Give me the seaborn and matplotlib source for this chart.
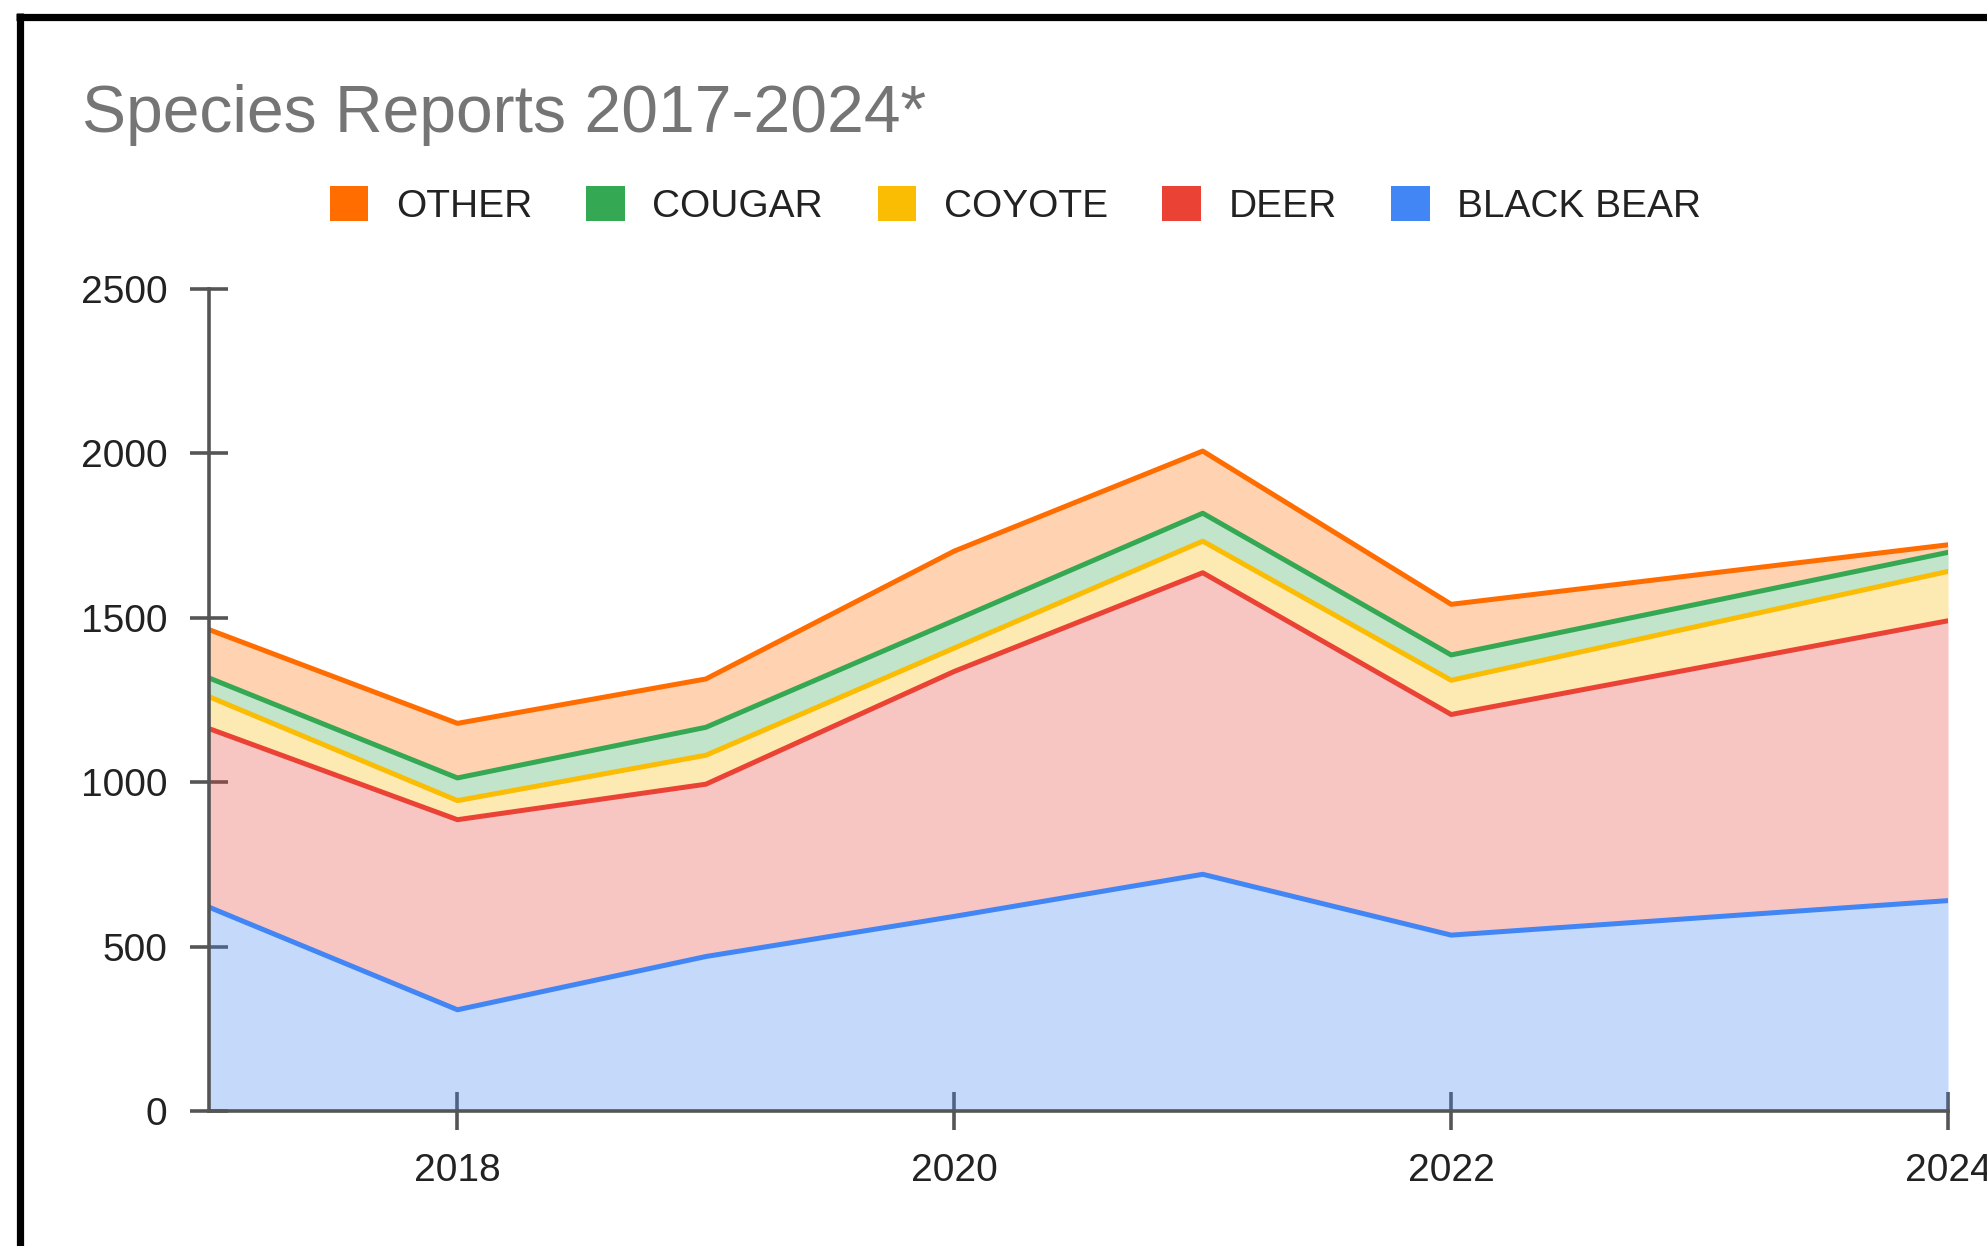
import numpy as np
import pandas as pd
import matplotlib
matplotlib.use("Agg")
import matplotlib.pyplot as plt
import seaborn as sns
from matplotlib.patches import Patch
from matplotlib.lines import Line2D

# values (2023 has no point of its own)
years = [2017, 2018, 2019, 2020, 2021, 2022, 2024]
black_bear = [620, 308, 470, 592, 720, 535, 640]
deer = [543, 578, 524, 745, 917, 671, 851]
coyote = [97, 58, 88, 71, 96, 104, 150]
cougar = [57, 69, 85, 84, 85, 77, 58]
other = [147, 166, 147, 211, 189, 154, 23]

species = ['BLACK BEAR', 'DEER', 'COYOTE', 'COUGAR', 'OTHER']
colors = ['#4285F4', '#EA4335', '#FBBC04', '#34A853', '#FF6D01']
yticks = [0, 500, 1000, 1500, 2000, 2500]
xticks = [2018, 2020, 2022, 2024]


def build_frame():
    wide = pd.DataFrame({'year': years, 'BLACK BEAR': black_bear, 'DEER': deer,
                         'COYOTE': coyote, 'COUGAR': cougar, 'OTHER': other})
    cum = wide[species].cumsum(axis=1)
    cum['year'] = wide['year']
    long = cum.melt(id_vars='year', var_name='species', value_name='total')
    return wide, cum, long


def plot_stacked(cum, long):
    sns.set_theme(style="white")
    plt.rcParams['font.family'] = ['Liberation Sans', 'DejaVu Sans']

    fig = plt.figure(figsize=(19.87, 12.46), dpi=100)
    ax = fig.add_axes([0.1052, 0.1083, 0.8752, 0.6598])

    palette = dict(zip(species, colors))
    base = np.zeros(len(years))
    for name in species:
        ax.fill_between(cum['year'], base, cum[name], color=palette[name],
                        alpha=0.3, linewidth=0, zorder=1)
        base = cum[name].values

    sns.lineplot(data=long, x='year', y='total', hue='species', palette=palette,
                 hue_order=species, linewidth=3.6, legend=False, ax=ax, zorder=3)

    ax.set_xlim(2017, 2024)
    ax.set_ylim(0, 2500)
    ax.set_xticks(xticks)
    ax.set_yticks(yticks)
    ax.set_xlabel('')
    ax.set_ylabel('')
    for side in ['top', 'right']:
        ax.spines[side].set_visible(False)
    for side in ['left', 'bottom']:
        ax.spines[side].set_color('#555555')
        ax.spines[side].set_linewidth(2.6)
        ax.spines[side].set_zorder(4)
    ax.tick_params(axis='both', bottom=True, left=True, direction='inout', length=28,
                   width=2.6, color='#555555', labelsize=28, labelcolor='#222222', pad=16)
    ax.grid(False)

    fig.text(0.0413, 0.894, 'Species Reports 2017-2024*', fontsize=47.5,
             color='#757575', ha='left', va='baseline')

    handles = [Patch(facecolor=palette[s], edgecolor='none') for s in species[::-1]]
    fig.legend(handles, species[::-1], loc='center', bbox_to_anchor=(0.511, 0.835),
               ncol=5, frameon=False, fontsize=28, handlelength=1.0, handleheight=1.0,
               handletextpad=0.7, columnspacing=1.4, labelcolor='#222222')

    # black frame of the screenshot
    fig.add_artist(Line2D([16 / 1987, 1], [1 - 16.5 / 1246] * 2, color='black',
                          linewidth=5.2, solid_capstyle='butt'))
    fig.add_artist(Line2D([19.5 / 1987] * 2, [0, 1 - 13 / 1246], color='black',
                          linewidth=5.2, solid_capstyle='butt'))

    fig.savefig('out.png', dpi=100, facecolor='white')
    plt.close(fig)


if __name__ == "__main__":
    wide, cum, long = build_frame()
    plot_stacked(cum, long)
